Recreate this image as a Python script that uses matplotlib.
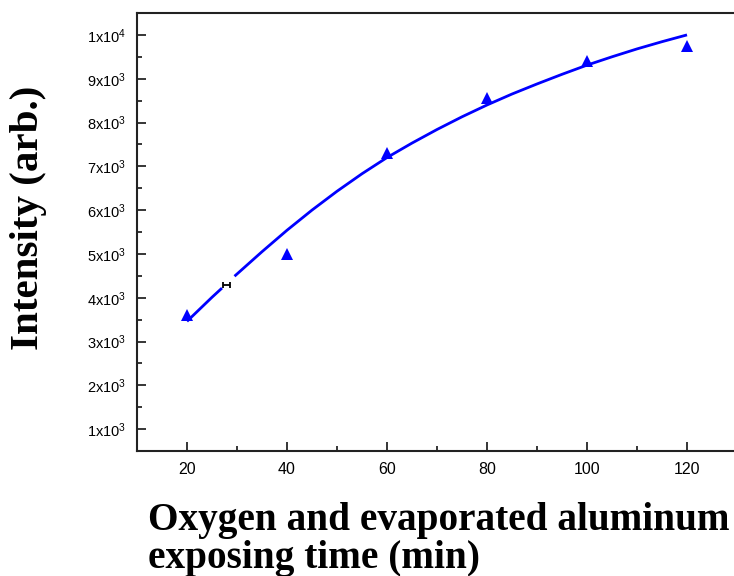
import matplotlib
matplotlib.use("Agg")
import matplotlib.pyplot as plt
from matplotlib.ticker import MultipleLocator, FixedLocator

# Measured data points
time_min = [20, 40, 60, 80, 100, 120]
intensity = [3600, 5000, 7300, 8550, 9400, 9750]

# Fitted curve (two segments, gap near x≈28)
fit_x1 = [20, 25, 27]
fit_y1 = [3460, 4010, 4220]
fit_x2 = [29.5, 35, 40, 45, 50, 55, 60, 65, 70, 75, 80, 85, 90, 95, 100, 105, 110, 115, 120]
fit_y2 = [4490, 5050, 5540, 6000, 6430, 6830, 7200, 7530, 7840, 8130, 8400, 8650, 8880, 9100,
          9310, 9500, 9680, 9845, 10000]

# small black mark on the curve
mark_x = [27.8]
mark_y = [4300]

y_ticks = [1000, 2000, 3000, 4000, 5000, 6000, 7000, 8000, 9000, 10000]
y_ticklabels = [r"$\mathregular{1x10^{3}}$", r"$\mathregular{2x10^{3}}$", r"$\mathregular{3x10^{3}}$",
                r"$\mathregular{4x10^{3}}$", r"$\mathregular{5x10^{3}}$", r"$\mathregular{6x10^{3}}$",
                r"$\mathregular{7x10^{3}}$", r"$\mathregular{8x10^{3}}$", r"$\mathregular{9x10^{3}}$",
                r"$\mathregular{1x10^{4}}$"]
x_ticks = [20, 40, 60, 80, 100, 120]

plt.rcParams['font.family'] = ['Liberation Sans', 'DejaVu Sans']
plt.rcParams['mathtext.fontset'] = 'custom'
plt.rcParams['mathtext.rm'] = 'Liberation Sans'

W, H = 734, 576
fig = plt.figure(figsize=(W / 100, H / 100), dpi=100)
left, right, top, bottom = 137 / W, 737 / W, 1 - 13 / H, 1 - 451 / H
ax = fig.add_axes([left, bottom, right - left, top - bottom])

ax.plot(fit_x1, fit_y1, color='#0000ff', lw=2.0, zorder=3, solid_capstyle='butt')
ax.plot(fit_x2, fit_y2, color='#0000ff', lw=2.0, zorder=3, solid_capstyle='butt')
ax.plot(time_min, intensity, linestyle='none', marker='^', ms=9, color='#0000ff',
        markeredgewidth=0, zorder=4)
ax.errorbar(mark_x, mark_y, xerr=0.7, fmt='none', ecolor='black', elinewidth=1.3,
            capsize=2.2, capthick=1.3, zorder=5)

ax.set_xlim(10, 130)
ax.set_ylim(500, 10500)
ax.xaxis.set_major_locator(FixedLocator(x_ticks))
ax.xaxis.set_minor_locator(MultipleLocator(10))
ax.yaxis.set_major_locator(FixedLocator(y_ticks))
ax.yaxis.set_minor_locator(MultipleLocator(500))
ax.set_yticklabels(y_ticklabels)
ax.set_xticklabels([str(v) for v in x_ticks])

ax.tick_params(which='major', direction='in', length=6.5, width=1.1, labelsize=11,
               colors='black')
ax.tick_params(which='minor', direction='in', length=3.8, width=1.1)
ax.tick_params(axis='y', which='major', pad=8, labelsize=10.5)
ax.tick_params(axis='x', which='major', pad=8, labelsize=11.5)
for s in ax.spines.values():
    s.set_linewidth(1.5)
    s.set_color('#222222')

fig.text(148 / W, 1 - 530 / H, "Oxygen and evaporated aluminum", fontsize=28.3,
         fontweight='bold', family='Liberation Serif', ha='left', va='baseline')
fig.text(148 / W, 1 - 568 / H, "exposing time (min)", fontsize=28.3,
         fontweight='bold', family='Liberation Serif', ha='left', va='baseline')
fig.text(29 / W, 1 - 218 / H, "Intensity (arb.)", fontsize=29.5, fontweight='bold',
         family='Liberation Serif', rotation=90, ha='center', va='center')

fig.savefig("out.png", dpi=100)
